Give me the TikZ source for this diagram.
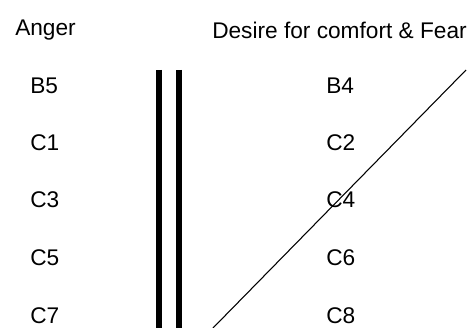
\documentclass[tikz,border=0pt]{standalone}
\usepackage{fontspec}
\setmainfont{Liberation Sans}
\begin{document}
\begin{tikzpicture}[x=0.75pt,y=-0.75pt,
  lbl/.style={anchor=west,inner sep=0pt,font=\fontsize{17pt}{19pt}\selectfont},
  bar/.style={line width=3.9pt},
  slash/.style={line width=0.8pt}]
\useasboundingbox (0,0) rectangle (468,328);
\node[lbl] (anger) at (15,30) {Anger};
\node[lbl] (desire) at (212,30) {Desire for comfort \& Fear};
\node[lbl] (b5) at (30,86) {B5};
\node[lbl] (c1) at (30,143) {C1};
\node[lbl] (c3) at (30,200) {C3};
\node[lbl] (c5) at (30,258) {C5};
\node[lbl] (c7) at (30,316) {C7};
\node[lbl] (b4) at (326,86) {B4};
\node[lbl] (c2) at (326,143) {C2};
\node[lbl] (c4) at (326,200) {C4};
\node[lbl] (c6) at (326,258) {C6};
\node[lbl] (c8) at (326,316) {C8};
\coordinate (l1t) at (159,70);
\coordinate (l1b) at (159,328);
\coordinate (l2t) at (179,70);
\coordinate (l2b) at (179,328);
\coordinate (st) at (466,70);
\coordinate (sb) at (213,328);
\draw[bar] (l1t) -- (l1b);
\draw[bar] (l2t) -- (l2b);
\draw[slash] (sb) -- (st);
\end{tikzpicture}
\end{document}
